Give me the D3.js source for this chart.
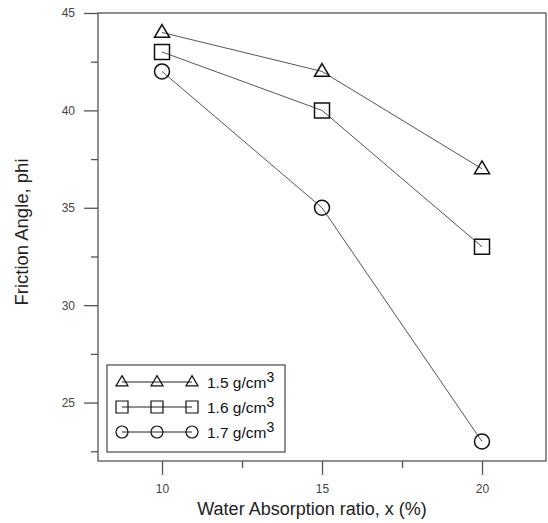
<!DOCTYPE html>
<html>
<head>
<meta charset="utf-8">
<script src="https://cdn.jsdelivr.net/npm/d3@7"></script>
<style>
  html, body { margin: 0; padding: 0; background: #fff; }
  svg { display: block; font-family: Arial, "Liberation Sans", sans-serif; }
</style>
</head>
<body>
<svg id="chart" width="548" height="523"></svg>
<script>
// Water absorption ratio (%) on the x axis
const absorption = [10, 15, 20];
// Friction angle for each dry density
const phi15 = [44, 42, 37];
const phi16 = [43, 40, 33];
const phi17 = [42, 35, 23];
const seriesNames = ["1.5 g/cm", "1.6 g/cm", "1.7 g/cm"];
const seriesSymbols = ["triangle", "square", "circle"];
const xTicks = [10, 15, 20];
const xMinor = [12.5, 17.5];
const yTicks = [25, 30, 35, 40, 45];
const yMinor = [22.5, 27.5, 32.5, 37.5, 42.5];

const series = [phi15, phi16, phi17].map((vals, i) => ({
  name: seriesNames[i],
  symbol: seriesSymbols[i],
  points: vals.map((v, j) => ({ x: absorption[j], y: v }))
}));

const svg = d3.select("#chart");
const L = 98, T = 13, R = 546, B = 461;

const x = d3.scaleLinear().domain([8, 22]).range([L, R]);
const y = d3.scaleLinear().domain([22, 45]).range([B, T]);

const axisColor = "#555";
const textColor = "#444";

// frame
svg.append("rect")
  .attr("x", L).attr("y", T)
  .attr("width", R - L).attr("height", B - T)
  .attr("fill", "none").attr("stroke", axisColor).attr("stroke-width", 1.3);

// x axis: major ticks with labels, minor ticks without
const xAxis = svg.append("g").attr("transform", `translate(0,${B})`)
  .call(d3.axisBottom(x).tickValues(xTicks).tickSize(14).tickPadding(9).tickFormat(d3.format("d")));
const xAxisMinor = svg.append("g").attr("transform", `translate(0,${B})`)
  .call(d3.axisBottom(x).tickValues(xMinor).tickSize(7).tickFormat(""));

// y axis
const yAxis = svg.append("g").attr("transform", `translate(${L},0)`)
  .call(d3.axisLeft(y).tickValues(yTicks).tickSize(14).tickPadding(9).tickFormat(d3.format("d")));
const yAxisMinor = svg.append("g").attr("transform", `translate(${L},0)`)
  .call(d3.axisLeft(y).tickValues(yMinor).tickSize(7).tickFormat(""));

[xAxis, xAxisMinor, yAxis, yAxisMinor].forEach(g => {
  g.select(".domain").remove();
  g.selectAll(".tick line").attr("stroke", axisColor).attr("stroke-width", 1.3);
  g.selectAll(".tick text").attr("fill", textColor)
    .style("font-size", "12px").style("font-family", "Arial, 'Liberation Sans', sans-serif");
});

// axis titles
svg.append("text")
  .attr("x", 312).attr("y", 515)
  .attr("text-anchor", "middle")
  .attr("fill", "#222")
  .style("font-size", "18px")
  .text("Water Absorption ratio, x (%)");

svg.append("text")
  .attr("transform", "translate(28,232) rotate(-90)")
  .attr("text-anchor", "middle")
  .attr("fill", "#222")
  .style("font-size", "18.5px")
  .text("Friction Angle, phi");

// marker shapes
function symbolPath(kind, size) {
  const h = size / 2;
  if (kind === "triangle") {
    const th = size * 0.85;
    return `M0,${-th * 0.62}L${h},${th * 0.38}L${-h},${th * 0.38}Z`;
  }
  if (kind === "square") {
    return `M${-h},${-h}H${h}V${h}H${-h}Z`;
  }
  return d3.arc()({ innerRadius: 0, outerRadius: h, startAngle: 0, endAngle: 2 * Math.PI });
}

const line = d3.line().x(d => x(d.x)).y(d => y(d.y));

series.forEach(s => {
  svg.append("path")
    .datum(s.points)
    .attr("d", line)
    .attr("fill", "none")
    .attr("stroke", "#555")
    .attr("stroke-width", 1);

  svg.selectAll(null)
    .data(s.points)
    .enter().append("path")
    .attr("transform", d => `translate(${x(d.x)},${y(d.y)})`)
    .attr("d", symbolPath(s.symbol, 15))
    .attr("fill", "none")
    .attr("stroke", "#111")
    .attr("stroke-width", 1.5);
});

// legend
const legend = svg.append("g");
legend.append("rect")
  .attr("x", 107).attr("y", 365)
  .attr("width", 178).attr("height", 87)
  .attr("fill", "#fff").attr("stroke", axisColor).attr("stroke-width", 1.3);

const legendX = [122, 157, 192];
series.forEach((s, i) => {
  const ly = 382 + i * 25;
  legend.append("line")
    .attr("x1", legendX[0]).attr("x2", legendX[2])
    .attr("y1", ly).attr("y2", ly)
    .attr("stroke", "#222").attr("stroke-width", 1);
  legendX.forEach(lx => {
    legend.append("path")
      .attr("transform", `translate(${lx},${ly})`)
      .attr("d", symbolPath(s.symbol, 12))
      .attr("fill", "none")
      .attr("stroke", "#111")
      .attr("stroke-width", 1.2);
  });
  const t = legend.append("text")
    .attr("x", 207).attr("y", ly + 6)
    .attr("fill", "#111")
    .style("font-size", "15.5px")
    .text(s.name);
  t.append("tspan")
    .attr("dy", -6)
    .style("font-size", "14px")
    .text("3");
});
</script>
</body>
</html>
